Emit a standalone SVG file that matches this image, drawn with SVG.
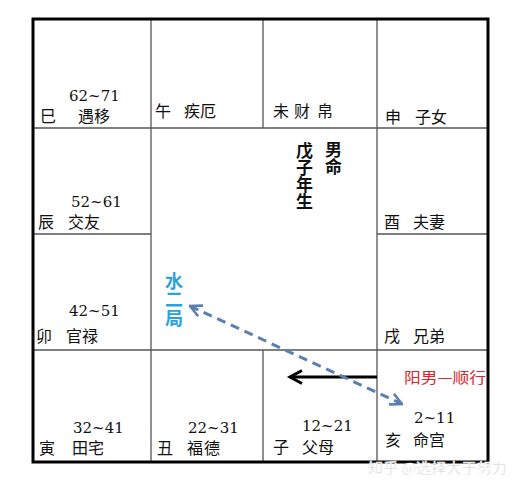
<svg xmlns="http://www.w3.org/2000/svg" width="519" height="491" viewBox="0 0 519 491">
<defs>
<style>
.cj{font-family:"Noto Sans CJK SC","Noto Sans",sans-serif;font-size:16px;fill:#111}
.num{font-family:"DejaVu Serif","Liberation Serif",serif;font-size:15px;fill:#111}
.bd{font-family:"Noto Sans CJK SC","Noto Sans",sans-serif;font-size:17px;font-weight:bold;fill:#111;writing-mode:vertical-rl}
.ju{font-family:"Noto Sans CJK SC","Noto Sans",sans-serif;font-size:18px;font-weight:bold;fill:#2aa3d8;writing-mode:vertical-rl;letter-spacing:0.5px}
.red{font-family:"Noto Sans CJK SC","Noto Sans",sans-serif;font-size:15px;fill:#d9262c}
.wm{font-family:"Noto Sans CJK SC","Noto Sans",sans-serif;font-size:14px;fill:#bdbdbd;stroke:#fff;stroke-width:0.6}
.thin{stroke:#555;stroke-width:1.3;fill:none}
</style>
<marker id="vh" viewBox="0 0 12 12" refX="11" refY="6" markerWidth="14" markerHeight="14" markerUnits="userSpaceOnUse" orient="auto-start-reverse">
<path d="M1,1 L11,6 L1,11" fill="none" stroke="#5b7fae" stroke-width="2.2"/>
</marker>
</defs>
<rect width="519" height="491" fill="#fff"/>
<g id="grid">
<line class="thin" x1="151" y1="19" x2="151" y2="462"/>
<line class="thin" x1="377" y1="19" x2="377" y2="462"/>
<line class="thin" x1="263" y1="19" x2="263" y2="128"/>
<line class="thin" x1="263" y1="350" x2="263" y2="462"/>
<line class="thin" x1="33" y1="128" x2="488" y2="128"/>
<line class="thin" x1="33" y1="350" x2="488" y2="350"/>
<line class="thin" x1="33" y1="234" x2="151" y2="234"/>
<line class="thin" x1="377" y1="234" x2="488" y2="234"/>
<rect x="33" y="19" width="455" height="443" fill="none" stroke="#000" stroke-width="3"/>
</g>
<g id="si">
<text class="num" x="69" y="101">62~71</text>
<text class="cj" x="40" y="122">巳</text>
<text class="cj" x="78" y="122">遇移</text>
</g>
<g id="wu">
<text class="cj" x="155" y="117">午</text>
<text class="cj" x="184" y="117">疾厄</text>
</g>
<g id="wei">
<text class="cj" x="273" y="117">未</text>
<text class="cj" x="294" y="117">财</text>
<text class="cj" x="317" y="117">帛</text>
</g>
<g id="shen">
<text class="cj" x="385" y="123">申</text>
<text class="cj" x="415" y="123">子女</text>
</g>
<g id="chen">
<text class="num" x="71" y="207">52~61</text>
<text class="cj" x="38" y="228">辰</text>
<text class="cj" x="68" y="228">交友</text>
</g>
<g id="you">
<text class="cj" x="384" y="228">酉</text>
<text class="cj" x="413" y="228">夫妻</text>
</g>
<g id="mao">
<text class="num" x="69" y="316">42~51</text>
<text class="cj" x="36" y="342">卯</text>
<text class="cj" x="66" y="342">官禄</text>
</g>
<g id="xu">
<text class="cj" x="384" y="342">戌</text>
<text class="cj" x="413" y="342">兄弟</text>
</g>
<g id="yin">
<text class="num" x="73" y="433">32~41</text>
<text class="cj" x="39" y="454">寅</text>
<text class="cj" x="72" y="454">田宅</text>
</g>
<g id="chou">
<text class="num" x="188" y="433">22~31</text>
<text class="cj" x="157" y="454">丑</text>
<text class="cj" x="187" y="454" letter-spacing="1">福德</text>
</g>
<g id="zi">
<text class="num" x="302" y="431">12~21</text>
<text class="cj" x="273" y="453">子</text>
<text class="cj" x="302" y="453">父母</text>
</g>
<g id="hai">
<text class="num" x="414" y="423">2~11</text>
<text class="cj" x="385" y="446">亥</text>
<text class="cj" x="413" y="446">命宫</text>
</g>
<g id="center">
<text class="bd" x="304.5" y="142">戊子年生</text>
<text class="bd" x="333.5" y="141">男命</text>
</g>
<g id="ju">
<text class="ju" x="174" y="272">水二局</text>
</g>
<g id="note">
<text class="red" x="404" y="383" textLength="82" lengthAdjust="spacingAndGlyphs">阳男—顺行</text>
</g>
<g id="connectors">
<line x1="377" y1="377" x2="291" y2="377" stroke="#000" stroke-width="3"/>
<polyline points="302,370.5 290,377 302,383.5" fill="none" stroke="#000" stroke-width="3"/>
<line x1="190" y1="306" x2="402" y2="404" stroke="#5b7fae" stroke-width="3" stroke-dasharray="9 6" marker-start="url(#vh)" marker-end="url(#vh)"/>
</g>
<g id="watermark">
<text class="wm" x="368" y="473" textLength="139" lengthAdjust="spacingAndGlyphs">知乎 @选择大于努力</text>
</g>
</svg>
